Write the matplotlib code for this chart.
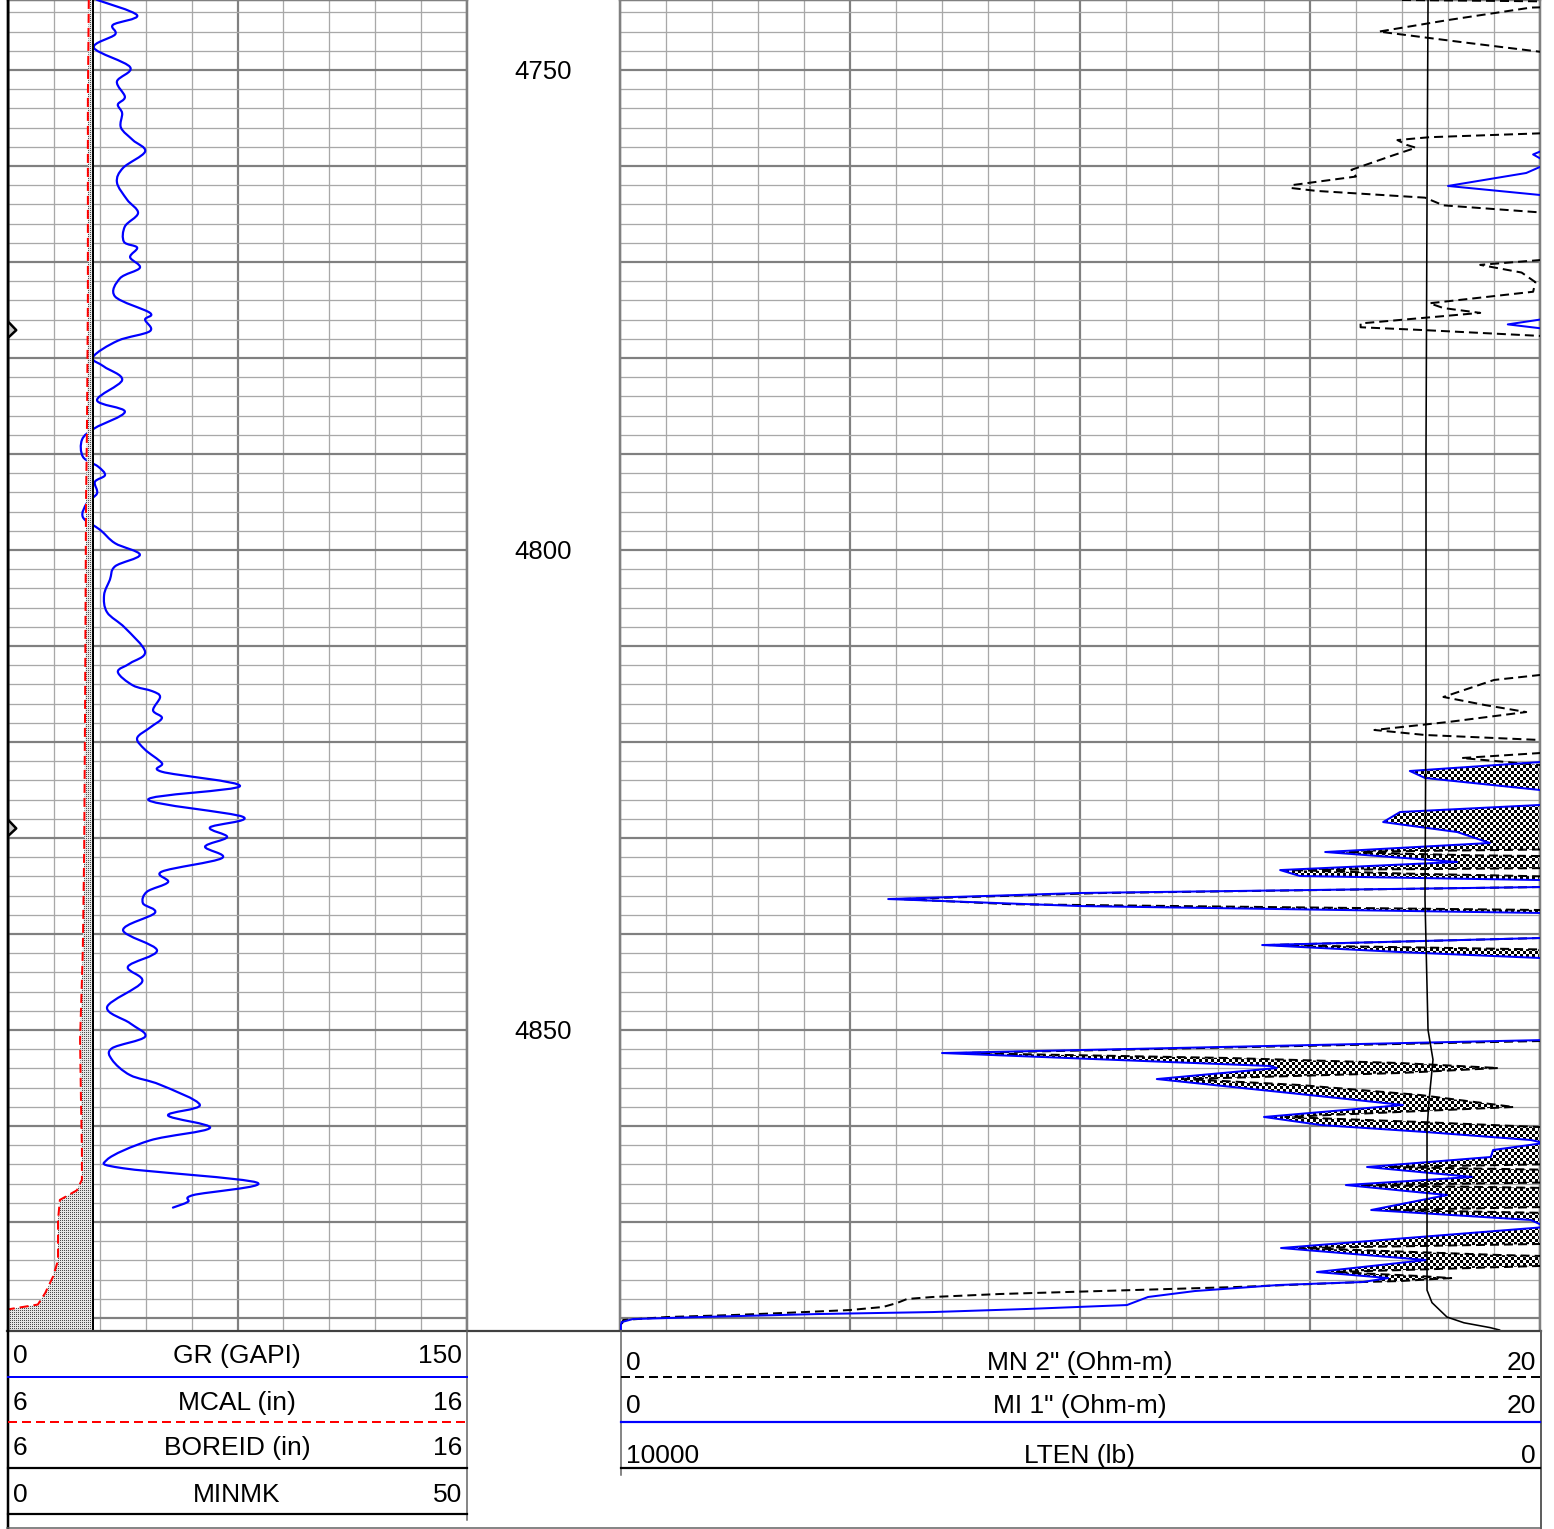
import numpy as np
import matplotlib
matplotlib.use('Agg')
import matplotlib.pyplot as plt
from matplotlib import font_manager
from matplotlib.path import Path
from matplotlib.patches import PathPatch
from matplotlib.ticker import MultipleLocator

# ---------------- data ----------------
TOP_DEPTH, BOTTOM_DEPTH = 4742.71, 4881.25
depth_labels = [4750, 4800, 4850]

gr_depth = [4742.7, 4744.3, 4745.3, 4746.3, 4747.7, 4749.7, 4751.2, 4752.8, 4753.6, 4754.5,
            4756.0, 4757.3, 4758.5, 4760.2, 4761.7, 4763.5, 4764.9, 4766.3, 4767.9, 4768.5,
            4769.5, 4770.6, 4771.7, 4773.6, 4775.3, 4776.0, 4777.2, 4778.2, 4779.9, 4780.9,
            4782.3, 4784.4, 4785.6, 4787.3, 4788.5, 4790.3, 4791.3, 4792.2, 4792.9, 4794.1,
            4795.1, 4796.6, 4797.9, 4799.3, 4800.5, 4801.7, 4803.1, 4804.7, 4806.5, 4808.1,
            4810.6, 4811.8, 4812.7, 4814.1, 4814.7, 4815.3, 4816.7, 4817.5, 4818.5, 4819.6,
            4820.8, 4822.2, 4823.1, 4824.6, 4826.0, 4827.8, 4828.9, 4829.9, 4830.9, 4832.1,
            4833.5, 4834.6, 4835.6, 4836.8, 4837.8, 4839.6, 4841.7, 4843.4, 4845.0, 4847.6,
            4849.3, 4850.7, 4851.9, 4853.1, 4854.7, 4855.7, 4857.8, 4858.9, 4860.2, 4861.5,
            4863.5, 4864.4, 4865.9, 4867.2, 4867.9, 4868.5]
gr_value = [29.1, 42.2, 34.3, 35.0, 28.1, 39.9, 35.6, 38.2, 35.9, 37.3,
            36.9, 40.8, 44.8, 37.6, 35.6, 38.9, 42.5, 38.2, 37.9, 42.2,
            39.9, 43.1, 36.6, 35.0, 46.4, 44.8, 46.4, 35.9, 27.8, 31.4,
            37.3, 29.1, 38.2, 28.4, 24.2, 24.5, 29.4, 31.7, 28.4, 29.1,
            25.8, 24.5, 30.1, 35.0, 43.1, 35.0, 33.3, 31.4, 32.4, 38.2,
            44.8, 39.9, 35.9, 40.8, 47.1, 49.7, 47.4, 50.3, 46.4, 42.2,
            44.8, 50.3, 50.3, 75.8, 45.8, 76.8, 66.0, 71.6, 64.4, 69.9,
            50.3, 52.3, 45.4, 44.1, 48.0, 37.6, 48.7, 39.2, 43.8, 32.4,
            39.9, 44.8, 34.0, 34.0, 39.9, 49.7, 62.7, 52.3, 66.0, 46.4,
            32.4, 37.6, 81.4, 60.5, 58.8, 53.9]

mcal_depth = [4742.7, 4753.1, 4774.0, 4787.5, 4794.8, 4815.6, 4831.2, 4841.7, 4851.0, 4857.3,
              4862.5, 4865.6, 4866.7, 4867.7, 4869.8, 4874.0, 4875.7, 4877.4, 4878.6, 4878.9,
              4879.1, 4881.25]
mcal_value = [7.76, 7.74, 7.74, 7.72, 7.70, 7.68, 7.66, 7.63, 7.57, 7.59,
              7.61, 7.61, 7.50, 7.13, 7.09, 7.09, 6.98, 6.81, 6.65, 6.26,
              6.00, 6.00]

boreid_depth = [4742.7, 4881.25]
boreid_value = [7.85, 7.85]

minmk_depth = [4742.7, 4776.2, 4777.1, 4777.9, 4828.1, 4829.0, 4829.8, 4881.25]
minmk_value = [0.0, 0.0, 0.9, 0.0, 0.0, 0.9, 0.0, 0.0]

lten_depth = [4742.7, 4763.5, 4789.6, 4815.6, 4836.4, 4850.0, 4853.1, 4857.3, 4860.4,
              4877.1, 4878.4, 4879.9, 4880.5, 4881.0, 4881.25]
lten_value = [1217, 1228, 1239, 1239, 1250, 1217, 1163, 1206, 1228,
              1228, 1174, 1011, 826, 543, 440]

# MN 2" (dashed) and MI 1" (blue) micro-resistivity, Ohm-m (values > 20 run off-track)
mn_depth = [4742.71, 4743.03, 4743.5, 4744.8, 4746.0, 4747.1, 4748.1, 4748.8,
            4756.0, 4756.6, 4757.0, 4757.3, 4757.8, 4758.1, 4758.9, 4760.4, 4761.1, 4762.0,
            4762.3, 4762.6, 4763.3, 4764.1, 4764.8, 4765.4,
            4769.3, 4769.8, 4770.3, 4771.1, 4772.1, 4773.1, 4774.3, 4774.8, 4775.3, 4776.4,
            4776.8, 4777.1, 4777.7, 4778.3,
            4812.5, 4813.02, 4813.54, 4815.31, 4816.15, 4816.88, 4817.92, 4818.75, 4819.27,
            4819.79, 4820.42, 4820.84, 4821.15, 4821.67, 4822.4, 4822.9,
            4831.0, 4831.2, 4831.46, 4831.8, 4832.1,
            4833.0, 4833.34, 4833.7, 4834.0, 4834.3,
            4834.9, 4835.11, 4835.73, 4836.36, 4836.9, 4837.5, 4837.9,
            4840.1, 4840.42, 4841.15, 4841.6, 4842.0,
            4850.84, 4851.15, 4852.40, 4852.92, 4853.44, 4853.96, 4854.48, 4855.11, 4855.73,
            4856.77, 4858.02, 4858.54, 4859.06, 4859.58, 4860.11, 4860.42,
            4863.7, 4864.0, 4864.27, 4864.55, 4864.8,
            4865.6, 4865.9, 4866.15, 4866.45, 4866.7,
            4868.2, 4868.45, 4868.75, 4869.05, 4869.3,
            4871.88, 4872.29, 4872.71, 4873.44, 4873.96, 4874.58, 4875.21, 4875.63, 4875.84,
            4876.15, 4876.25, 4876.77, 4877.19, 4877.5, 4877.81, 4878.02,
            4878.44, 4878.85, 4879.17, 4879.48, 4879.69, 4879.9, 4880.21, 4881.25]
mn_value = [17.0, 24.0, 19.8, 18.0, 16.5, 18.3, 20.0, 24.0,
            24.0, 20.0, 17.6, 16.9, 17.1, 17.3, 16.8, 15.9, 16.0, 14.6,
            14.6, 15.15, 17.5, 17.9, 19.9, 24.0,
            24.0, 20.0, 18.7, 19.6, 19.9, 19.85, 17.6, 17.9, 18.7, 16.1,
            16.1, 17.5, 20.0, 24.0,
            24.0, 20.0, 19.0, 17.9, 18.8, 19.7, 18.0, 16.4, 17.5,
            20.0, 24.0, 22.0, 20.0, 18.3, 20.0, 24.0,
            24.0, 20.0, 15.5, 18.5, 24.0,
            24.0, 14.6, 17.0, 20.0, 24.0,
            24.0, 20.0, 10.5, 6.1, 8.5, 20.0, 24.0,
            24.0, 20.0, 14.1, 20.0, 24.0,
            24.0, 20.0, 7.39, 13.26, 16.96, 19.09, 16.96, 12.28, 14.78,
            17.39, 19.43, 16.96, 14.46, 17.39, 20.0, 24.0,
            24.0, 20.0, 16.7, 20.0, 24.0,
            24.0, 20.0, 16.1, 20.0, 24.0,
            24.0, 20.0, 16.7, 20.0, 24.0,
            24.0, 20.0, 14.78, 19.13, 24.0, 20.0, 15.54, 17.39, 18.07,
            16.96, 16.15, 13.41, 10.43, 8.26, 6.80, 6.24,
            6.02, 5.72, 5.0, 3.54, 2.46, 1.02, 0.07, 0.0]

mi_depth = [4742.71, 4758.2, 4758.5, 4758.8, 4759.2, 4759.5, 4760.1, 4760.73, 4762.08, 4763.02,
            4763.5, 4775.8, 4776.0, 4776.5, 4776.9, 4777.3,
            4821.67, 4822.09, 4823.02, 4823.75, 4825.00, 4825.52,
            4826.04, 4826.56, 4827.29, 4828.34, 4829.38, 4830.52, 4831.46, 4832.50, 4833.34,
            4833.96, 4834.38, 4834.90, 4835.11, 4835.73, 4836.36, 4837.09, 4837.81, 4838.34,
            4840.11, 4840.42, 4841.15, 4841.88, 4842.50, 4842.92,
            4850.84, 4851.04, 4852.40, 4852.92, 4853.75, 4853.96, 4855.11, 4857.09, 4857.81,
            4859.06, 4859.90, 4860.63, 4861.46, 4861.77, 4862.50, 4863.23, 4864.27, 4865.31,
            4866.15, 4867.19, 4868.75, 4869.79, 4870.52, 4872.71, 4873.96, 4875.21, 4875.84,
            4876.25, 4876.56, 4877.19, 4877.81,
            4878.65, 4879.06, 4879.38, 4879.59, 4879.90, 4880.11, 4880.42, 4880.73, 4881.25]
mi_value = [24.0, 24.0, 20.0, 19.85, 20.0, 20.1, 20.0, 19.7, 18.0, 20.0,
            24.0, 24.0, 20.0, 19.3, 20.0, 24.0,
            24.0, 20.0, 17.17, 17.5, 20.0, 24.0,
            24.0, 20.0, 16.96, 16.59, 18.2, 18.91, 15.33, 18.2, 14.35,
            14.78, 20.0, 24.0, 20.0, 10.0, 5.83, 10.0, 20.0, 24.0,
            24.0, 20.0, 13.96, 16.96, 20.0, 24.0,
            24.0, 20.13, 7.0, 9.74, 14.13, 14.28, 11.67, 15.61, 17.02,
            14.0, 15.24, 17.52, 19.8, 20.09, 18.98, 18.93, 16.24, 18.52,
            15.78, 17.98, 16.33, 19.8, 20.13, 14.37, 17.52, 15.15, 16.70,
            16.15, 14.33, 12.5, 11.48,
            11.02, 8.85, 6.80, 4.28, 1.74, 0.28, 0.04, 0.02, 0.02]

# ---------------- figure ----------------
W, H, DPI = 1554, 1529, 100
fig = plt.figure(figsize=(W / DPI, H / DPI), dpi=DPI)
PT = 72.0 / DPI  # points per pixel

names = {f.name for f in font_manager.fontManager.ttflist}
BASE = 'Liberation Sans' if 'Liberation Sans' in names else 'DejaVu Sans'


def px_axes(x0, y0, x1, y1):
    return fig.add_axes([x0 / W, 1 - y1 / H, (x1 - x0) / W, (y1 - y0) / H])


def style_track(ax, xmax, minor, major):
    ax.set_xlim(0, xmax)
    ax.set_ylim(BOTTOM_DEPTH, TOP_DEPTH)
    ax.xaxis.set_major_locator(MultipleLocator(major))
    ax.xaxis.set_minor_locator(MultipleLocator(minor))
    ax.yaxis.set_major_locator(MultipleLocator(10))
    ax.yaxis.set_minor_locator(MultipleLocator(2))
    ax.grid(which='major', color='#808080', lw=2.2 * PT)
    ax.grid(which='minor', color='#a8a8a8', lw=1.3 * PT)
    ax.tick_params(which='both', length=0, labelbottom=False, labelleft=False)
    for s in ax.spines.values():
        s.set_color('#808080')
        s.set_linewidth(2.5 * PT)
    ax.spines['bottom'].set_visible(False)
    ax.set_axisbelow(True)


def twin(ax, lo, hi):
    t = ax.twiny()
    t.set_xlim(lo, hi)
    t.set_ylim(BOTTOM_DEPTH, TOP_DEPTH)
    t.axis('off')
    return t


def pattern_fill(ax, coll, pattern, xlim):
    paths = coll.get_paths()
    if not paths:
        return
    cp = Path.make_compound_path(*paths)
    im = ax.imshow(pattern, extent=(xlim[0], xlim[1], BOTTOM_DEPTH, TOP_DEPTH),
                   cmap='gray', vmin=0, vmax=1, interpolation='nearest',
                   aspect='auto', zorder=1.5)
    im.set_clip_path(cp, ax.transData)
    ax.set_xlim(*xlim)
    ax.set_ylim(BOTTOM_DEPTH, TOP_DEPTH)


def smooth_curve(xs, ys):
    """Smooth (Catmull-Rom as cubic Bezier) path passing through the given samples."""
    P = np.column_stack([xs, ys]).astype(float)
    n = len(P)
    verts = [P[0]]
    codes = [Path.MOVETO]
    for i in range(n - 1):
        p0 = P[i - 1] if i > 0 else P[i]
        p1, p2 = P[i], P[i + 1]
        p3 = P[i + 2] if i + 2 < n else P[i + 1]
        verts += [p1 + (p2 - p0) / 6.0, p2 - (p3 - p1) / 6.0, p2]
        codes += [Path.CURVE4] * 3
    return Path(verts, codes)


# ---- left track ----
axL = px_axes(8, 0, 467, 1330)
style_track(axL, 150, 15, 75)
tCal = twin(axL, 6, 16)
tMk = twin(axL, 0, 50)

md = np.array(mcal_depth)
mv = np.array(mcal_value)
bv = np.interp(md, boreid_depth, boreid_value)
coll = tCal.fill_betweenx(md, mv, bv, where=mv < bv, interpolate=True,
                          facecolor='none', edgecolor='none')
hL, wL = 1330, 459
ii, jj = np.mgrid[0:hL, 0:wL]
stipple = np.where((ii % 2 == 0) & (jj % 2 == 0), 0.3, 0.9)
pattern_fill(tCal, coll, stipple, (6, 16))

tCal.plot(boreid_value, boreid_depth, color='black', lw=2.0 * PT, zorder=3)
tCal.plot(mcal_value, mcal_depth, color='#ff0000', lw=2.0 * PT, ls=(0, (4.5, 2.5)), zorder=4)
axL.add_patch(PathPatch(smooth_curve(gr_value, gr_depth), fill=False, edgecolor='#0000ff',
                        lw=2.2 * PT, zorder=5, joinstyle='round', capstyle='round'))
tMk.fill_betweenx(minmk_depth, 0, minmk_value, color='#c8c8c8', lw=0, zorder=2)
tMk.plot(minmk_value, minmk_depth, color='black', lw=2.5 * PT, zorder=6)

# ---- right track ----
axR = px_axes(620, 0, 1540, 1330)
style_track(axR, 20, 1, 5)
tLt = twin(axR, 10000, 0)

dgrid = np.linspace(TOP_DEPTH, BOTTOM_DEPTH, 8000)
mn_i = np.minimum(np.interp(dgrid, mn_depth, mn_value), 20)
mi_i = np.minimum(np.interp(dgrid, mi_depth, mi_value), 20)
coll2 = axR.fill_betweenx(dgrid, mi_i, mn_i, where=mn_i > mi_i, interpolate=True,
                          facecolor='none', edgecolor='none')
hR, wR = 1330, 920
ii, jj = np.mgrid[0:hR, 0:wR]
checker = ((ii // 3 + jj // 3) % 2).astype(float)
pattern_fill(axR, coll2, checker, (0, 20))

tLt.plot(lten_value, lten_depth, color='black', lw=1.6 * PT, zorder=3)
axR.plot(mn_value, mn_depth, color='black', lw=2.0 * PT, ls=(0, (4.5, 2.5)), zorder=4)
axR.plot(mi_value, mi_depth, color='#0000ff', lw=2.0 * PT, zorder=5)

# ---- header / frame overlay (pixel coordinates) ----
hd = fig.add_axes([0, 0, 1, 1])
hd.set_xlim(0, W)
hd.set_ylim(H, 0)
hd.axis('off')

hd.plot([7, 1541], [1331, 1331], color='#404040', lw=2.2 * PT)
hd.plot([7.5, 7.5], [0, 1529], color='black', lw=2.5 * PT)
hd.plot([1540.5, 1540.5], [1331, 1529], color='#606060', lw=2.0 * PT)
hd.plot([467, 467], [1331, 1520], color='#606060', lw=1.5 * PT)
hd.plot([620.5, 620.5], [1331, 1475], color='#606060', lw=1.5 * PT)
hd.plot([7, 1541], [1528, 1528], color='#606060', lw=1.5 * PT)

# left header rows
hd.plot([8, 467], [1377, 1377], color='#0000ff', lw=2.0 * PT)
hd.plot([8, 467], [1422, 1422], color='#ff0000', lw=2.0 * PT, ls=(0, (4.5, 2.5)))
hd.plot([8, 467], [1468, 1468], color='black', lw=2.2 * PT)
hd.plot([8, 467], [1514, 1514], color='black', lw=2.2 * PT)
# right header rows
hd.plot([621, 1540], [1377, 1377], color='black', lw=2.0 * PT, ls=(0, (4.5, 2.5)))
hd.plot([621, 1540], [1422, 1422], color='#0000ff', lw=2.2 * PT)
hd.plot([621, 1540], [1468, 1468], color='black', lw=2.2 * PT)

FS = 19
left_rows = [('0', 'GR (GAPI)', '150', 1363),
             ('6', 'MCAL (in)', '16', 1410),
             ('6', 'BOREID (in)', '16', 1455),
             ('0', 'MINMK', '50', 1502)]
for lo, name, hi, base in left_rows:
    hd.text(13, base, lo, fontsize=FS, family=BASE, ha='left', va='baseline')
    hd.text(237, base, name, fontsize=FS, family=BASE, ha='center', va='baseline')
    hd.text(462, base, hi, fontsize=FS, family=BASE, ha='right', va='baseline')

right_rows = [('0', 'MN 2" (Ohm-m)', '20', 1370),
              ('0', 'MI 1" (Ohm-m)', '20', 1413),
              ('10000', 'LTEN (lb)', '0', 1463)]
for lo, name, hi, base in right_rows:
    hd.text(626, base, lo, fontsize=FS, family=BASE, ha='left', va='baseline')
    hd.text(1080, base, name, fontsize=FS, family=BASE, ha='center', va='baseline')
    hd.text(1536, base, hi, fontsize=FS, family=BASE, ha='right', va='baseline')

# depth labels
for d in depth_labels:
    y = axL.transData.transform((0, d))[1]
    fig.text(543.5 / W, y / H, str(d), fontsize=18.5, family=BASE,
             ha='center', va='center_baseline')

fig.savefig('out.png', dpi=DPI)
